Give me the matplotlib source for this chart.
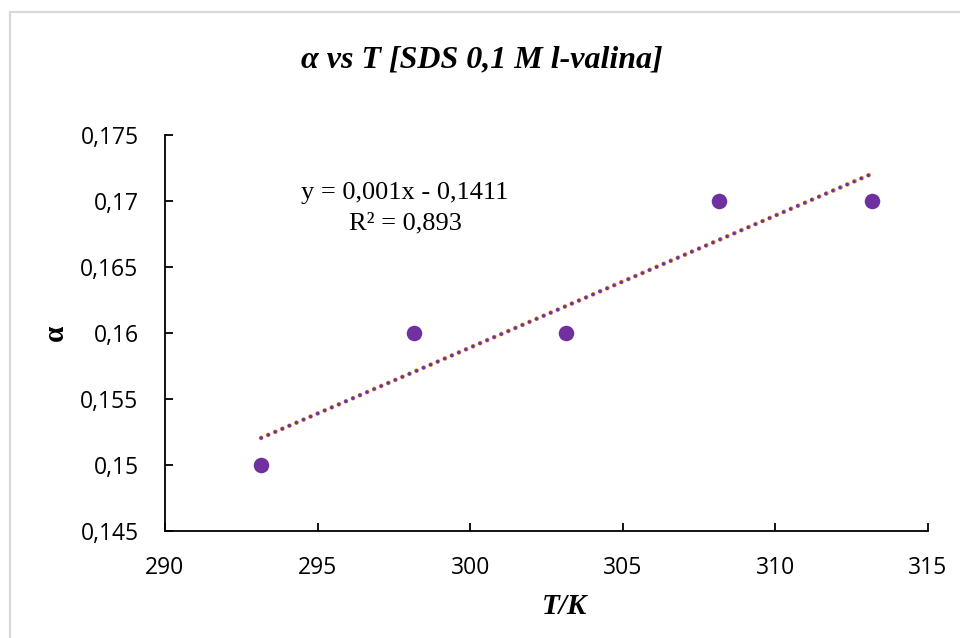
import numpy as np
import matplotlib.pyplot as plt
from matplotlib.patches import Rectangle

temps = [293.15, 298.15, 303.15, 308.15, 313.15]
alpha = [0.15, 0.16, 0.16, 0.17, 0.17]
slope = 0.001
intercept = -0.1411
eq_lines = ["y = 0,001x - 0,1411", "R² = 0,893"]

x_ticks = [290, 295, 300, 305, 310, 315]
y_ticks = [0.145, 0.15, 0.155, 0.16, 0.165, 0.17, 0.175]


def comma(v):
    s = f"{v:.3f}".rstrip("0").rstrip(".")
    return s.replace(".", ",")


W, H = 960, 638
fig = plt.figure(figsize=(9.6, 6.38), dpi=100)
ax = fig.add_axes([165 / W, 1 - 531 / H, (928 - 165) / W, (531 - 135) / H])

# chart border, only top/left edges show inside the picture
fig.patches.append(Rectangle((10 / W, -0.1), 1.2, 1 - 12 / H + 0.1,
                             transform=fig.transFigure, fill=False,
                             edgecolor="#d9d9d9", linewidth=1.6))

# trendline
tx = np.array([temps[0], temps[-1]])
ty = slope * tx + intercept
ax.plot(tx, ty, color="#e59a3a", linewidth=3.4, dashes=(0.01, 1.62),
        dash_capstyle="round", zorder=2)
ax.plot(tx, ty, color="#7030a0", linewidth=2.6, dashes=(0.01, 2.12),
        dash_capstyle="round", zorder=3)

ax.scatter(temps, alpha, s=125, color="#7030a0", zorder=4, linewidths=0)

ax.set_xlim(290, 315)
ax.set_ylim(0.145, 0.175)
ax.set_xticks(x_ticks)
ax.set_yticks(y_ticks)
ax.set_xticklabels([str(t) for t in x_ticks])
ax.set_yticklabels([comma(v) for v in y_ticks])

for side in ("top", "right"):
    ax.spines[side].set_visible(False)
for side in ("left", "bottom"):
    ax.spines[side].set_linewidth(1.3)
    ax.spines[side].set_color("black")

ax.tick_params(direction="in", length=6, width=1.3, labelsize=16.5,
               colors="black")
ax.tick_params(axis="y", pad=19)
ax.tick_params(axis="x", pad=18)
for lab in ax.get_xticklabels() + ax.get_yticklabels():
    lab.set_fontfamily("Open Sans")

fig.text(565 / W, 1 - 607 / H, "T/K", ha="center", va="center",
         fontsize=21, fontweight="bold", fontstyle="italic",
         family="Liberation Serif")
fig.text(55 / W, 1 - 333 / H, "α", ha="center", va="center", rotation=90,
         fontsize=21, fontweight="bold", family="Liberation Serif")

fig.text(482 / W, 1 - 60 / H, "α vs T [SDS 0,1 M l-valina]", ha="center",
         va="center", fontsize=23, fontweight="bold", fontstyle="italic",
         family="Liberation Serif")

fig.text(405 / W, 1 - 193 / H, eq_lines[0], ha="center", va="center",
         fontsize=19, family="Liberation Serif")
fig.text(405 / W, 1 - 223 / H, eq_lines[1], ha="center", va="center",
         fontsize=19, family="Liberation Serif")

fig.savefig("out.png", dpi=100)
